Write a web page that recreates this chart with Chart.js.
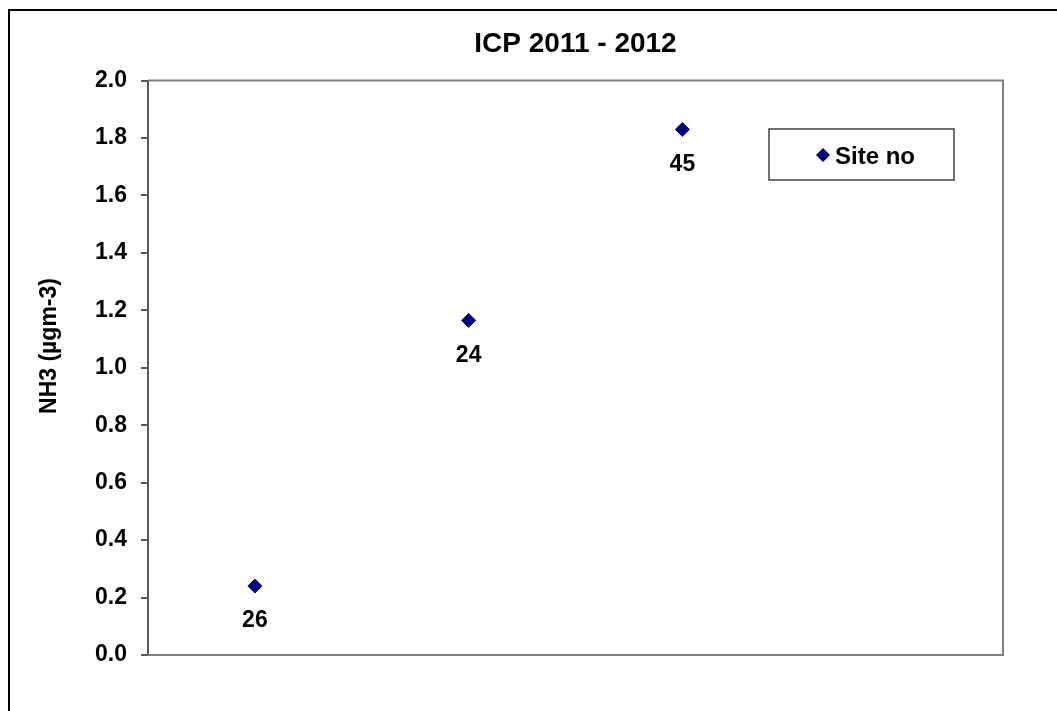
<!DOCTYPE html>
<html>
<head>
<meta charset="utf-8">
<script src="https://cdn.jsdelivr.net/npm/chart.js@4"></script>
<style>
  html, body { margin: 0; padding: 0; background: #fff; overflow: hidden; }
  #wrap { position: relative; width: 1057px; height: 711px; }
  #frame { position: absolute; left: 8px; top: 9px; width: 1200px; height: 900px; border: 2px solid #000; pointer-events: none; }
  canvas { position: absolute; left: 0; top: 0; }
</style>
</head>
<body>
<div id="wrap">
  <canvas id="nh3Chart" width="1057" height="711"></canvas>
  <div id="frame"></div>
</div>
<script>
// data
const sites = ['26', '24', '45', ''];
const nh3 = [0.24, 1.165, 1.83, null];
const seriesName = 'Site no';
const chartTitle = 'ICP 2011 - 2012';
const yTitle = 'NH3 (µgm-3)';
const yMin = 0, yMax = 2.0, yStep = 0.2;

const FONT = "'Liberation Sans', Arial, sans-serif";
const navy = '#000080';

// site numbers under each point
const pointLabels = {
    id: 'pointLabels',
    afterDatasetsDraw(chart) {
        const ctx = chart.ctx;
        const meta = chart.getDatasetMeta(0);
        ctx.save();
        ctx.font = 'bold 23px ' + FONT;
        ctx.fillStyle = '#000';
        ctx.textAlign = 'center';
        ctx.textBaseline = 'middle';
        meta.data.forEach(function(pt, i) {
            if (nh3[i] == null) return;
            ctx.fillText(sites[i], pt.x, pt.y + 35);
        });
        ctx.restore();
    }
};

// plot frame, y title (sits a bit above the axis middle) and boxed legend
const frameAndLegend = {
    id: 'frameAndLegend',
    beforeDatasetsDraw(chart) {
        const a = chart.chartArea;
        const ctx = chart.ctx;
        ctx.save();
        ctx.strokeStyle = '#808080';
        ctx.lineWidth = 2;
        ctx.beginPath();
        ctx.moveTo(a.left, a.top);
        ctx.lineTo(a.right, a.top);
        ctx.lineTo(a.right, a.bottom);
        ctx.lineTo(a.left, a.bottom);
        ctx.stroke();
        ctx.restore();
    },
    afterDraw(chart) {
        const ctx = chart.ctx;
        ctx.save();
        ctx.translate(50, 346);
        ctx.rotate(-Math.PI / 2);
        ctx.fillStyle = '#000';
        ctx.font = 'bold 23px ' + FONT;
        ctx.textAlign = 'center';
        ctx.textBaseline = 'middle';
        ctx.fillText(yTitle, 0, 0);
        ctx.restore();

        const bx = 769, by = 129, bw = 185, bh = 51;
        ctx.save();
        ctx.fillStyle = '#fff';
        ctx.fillRect(bx, by, bw, bh);
        ctx.strokeStyle = '#404040';
        ctx.lineWidth = 1.5;
        ctx.strokeRect(bx, by, bw, bh);
        ctx.fillStyle = navy;
        ctx.beginPath();
        ctx.moveTo(823, 155 - 7);
        ctx.lineTo(823 + 7, 155);
        ctx.lineTo(823, 155 + 7);
        ctx.lineTo(823 - 7, 155);
        ctx.closePath();
        ctx.fill();
        ctx.fillStyle = '#000';
        ctx.font = 'bold 24px ' + FONT;
        ctx.textAlign = 'left';
        ctx.textBaseline = 'middle';
        ctx.fillText(seriesName, 835, 157);
        ctx.restore();
    }
};

const ctx = document.getElementById('nh3Chart').getContext('2d');
new Chart(ctx, {
    type: 'line',
    data: {
        labels: sites,
        datasets: [{
            label: seriesName,
            data: nh3,
            showLine: false,
            pointStyle: 'rectRot',
            pointRadius: 7,
            pointHoverRadius: 7,
            backgroundColor: navy,
            borderColor: navy,
            borderWidth: 1
        }]
    },
    options: {
        responsive: false,
        animation: false,
        events: [],
        layout: { padding: { left: 0, right: 54, bottom: 56, top: 0 } },
        plugins: {
            legend: { display: false },
            tooltip: { enabled: false },
            title: {
                display: true,
                text: chartTitle,
                fullSize: false,
                color: '#000',
                font: { family: FONT, size: 28, weight: 'bold', lineHeight: 1.2 },
                padding: { top: 27, bottom: 20 }
            }
        },
        scales: {
            x: {
                type: 'category',
                display: false,
                offset: true
            },
            y: {
                min: yMin,
                max: yMax,
                afterFit: function(scale) { scale.width = 148; },
                border: { display: true, color: '#595959', width: 2 },
                grid: {
                    drawOnChartArea: false,
                    drawTicks: true,
                    tickLength: 7,
                    color: '#595959',
                    lineWidth: 2
                },
                ticks: {
                    stepSize: yStep,
                    padding: 14,
                    color: '#000',
                    font: { family: FONT, size: 23, weight: 'bold' },
                    callback: function(v) { return Number(v).toFixed(1); }
                }
            }
        }
    },
    plugins: [frameAndLegend, pointLabels]
});
</script>
</body>
</html>
